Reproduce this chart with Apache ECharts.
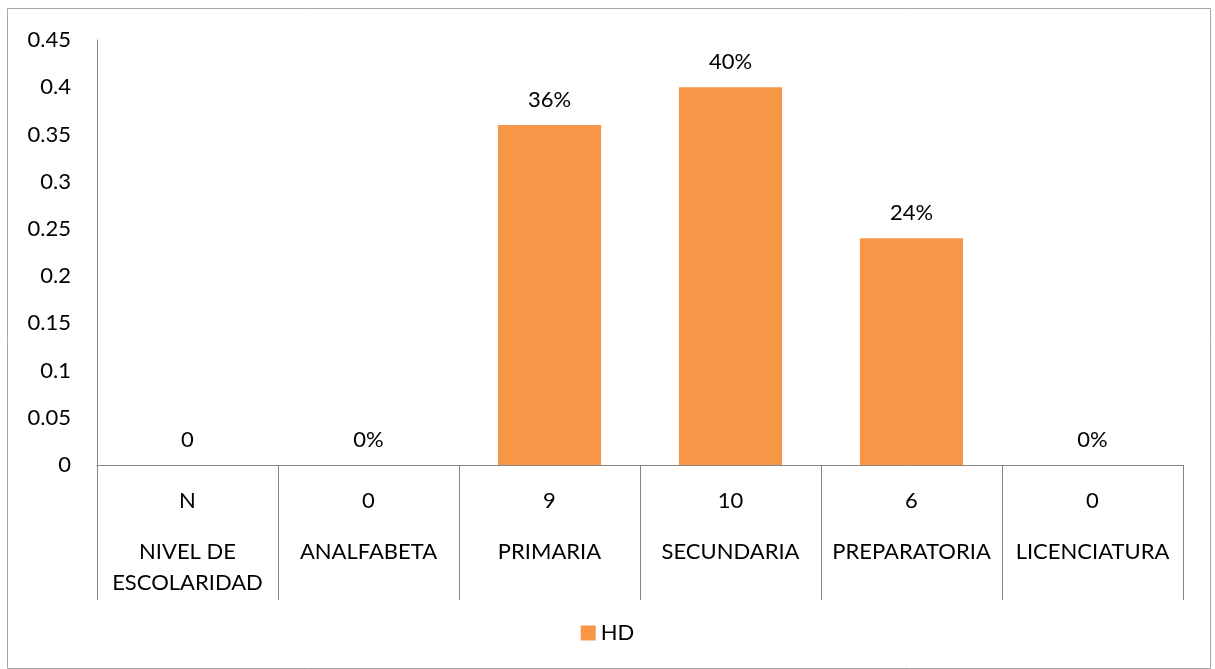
<!DOCTYPE html>
<html>
<head>
<meta charset="utf-8">
<script src="https://cdn.jsdelivr.net/npm/echarts@6/dist/echarts.min.js"></script>
<style>
  html, body { margin: 0; padding: 0; background: #fff; }
  #chart { width: 1215px; height: 669px; }
</style>
</head>
<body>
<div id="chart"></div>
<script>
// Schooling level breakdown for the HD group
const counts = ['N', '0', '9', '10', '6', '0'];
const levels = ['NIVEL DE\nESCOLARIDAD', 'ANALFABETA', 'PRIMARIA', 'SECUNDARIA', 'PREPARATORIA', 'LICENCIATURA'];
const hdValues = [0, 0, 0.36, 0.40, 0.24, 0];
const yTicks = { min: 0, max: 0.45, interval: 0.05 };

const FONT = 'Lato, "Open Sans", sans-serif';
const FS = 22;
const categories = levels.map((name, i) => counts[i] + '\n' + name);

const chart = echarts.init(document.getElementById('chart'));
chart.setOption({
  animation: false,
  textStyle: { fontFamily: FONT },
  graphic: [{
    type: 'rect',
    shape: { x: 7.5, y: 8.5, width: 1203, height: 660 },
    style: { fill: 'none', stroke: '#a6a6a6', lineWidth: 1 },
    z: 0
  }],
  grid: { left: 97, right: 32, top: 40, bottom: 204 },
  legend: {
    data: ['HD'],
    bottom: 20,
    left: 'center',
    itemWidth: 15,
    itemHeight: 15,
    itemGap: 7,
    icon: 'rect',
    textStyle: { fontFamily: FONT, fontSize: FS, color: '#000' }
  },
  xAxis: {
    type: 'category',
    data: categories,
    axisLine: { lineStyle: { color: '#868686', width: 1 } },
    axisTick: { show: true, interval: 0, length: 135, lineStyle: { color: '#868686' } },
    axisLabel: {
      interval: 0,
      margin: 1,
      fontFamily: FONT,
      fontSize: FS,
      color: '#000',
      formatter: function (v) {
        const parts = v.split('\n');
        return '{c|' + parts[0] + '}\n' + parts.slice(1).map(p => '{n|' + p + '}').join('\n');
      },
      rich: {
        c: { fontFamily: FONT, fontSize: FS, color: '#000', lineHeight: 70 },
        n: { fontFamily: FONT, fontSize: FS, color: '#000', lineHeight: 31 }
      }
    }
  },
  yAxis: {
    type: 'value',
    min: yTicks.min,
    max: yTicks.max,
    interval: yTicks.interval,
    axisLine: { show: true, lineStyle: { color: '#868686', width: 1 } },
    axisTick: { show: false },
    splitLine: { show: false },
    axisLabel: {
      margin: 26,
      fontFamily: FONT,
      fontSize: FS,
      color: '#000',
      formatter: v => String(parseFloat(v.toFixed(2)))
    }
  },
  series: [{
    name: 'HD',
    type: 'bar',
    data: hdValues,
    barWidth: '57%',
    itemStyle: { color: '#F79646' },
    label: {
      show: true,
      position: 'top',
      distance: 14,
      fontFamily: FONT,
      fontSize: FS,
      color: '#000',
      // the header column shows its raw value, the rest as percentages
      formatter: p => p.dataIndex === 0 ? String(p.value) : Math.round(p.value * 100) + '%'
    }
  }]
});
</script>
</body>
</html>
